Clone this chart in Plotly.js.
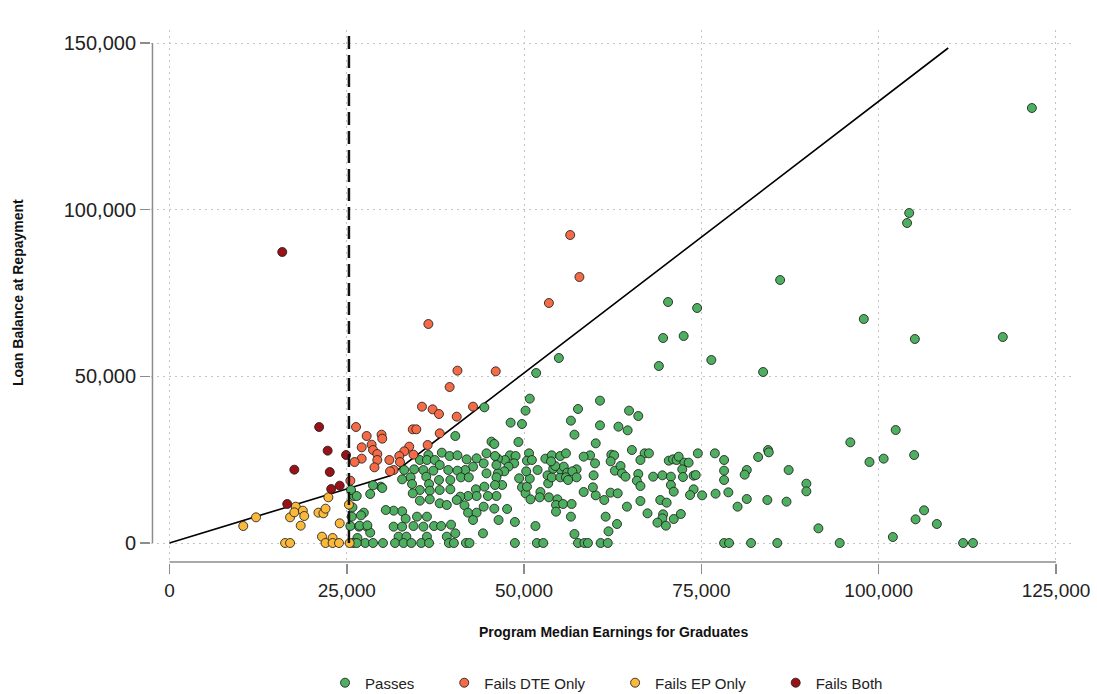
<!DOCTYPE html>
<html>
<head>
<meta charset="utf-8">
<script src="https://cdn.plot.ly/plotly-3.0.1.min.js"></script>
<style>
html,body{margin:0;padding:0;background:#fff;}
#chart{width:1097px;height:694px;}
</style>
</head>
<body>
<div id="chart"></div>
<script>
// Values in thousands of dollars: [earnings, loan balance]
var passes = [
[121.6,130.5],[104.3,99.0],[104.0,96.0],[117.5,61.8],[105.1,61.2],[97.9,67.2],[86.1,78.9],[70.3,72.3],[74.4,70.5],[72.5,62.1],[69.6,61.5],[69.0,53.1],[76.4,54.9],[83.7,51.3],[54.9,55.5],[51.7,51.0],
[89.8,17.8],[89.8,15.5],[91.5,4.4],[94.5,0],[96.0,30.2],[98.7,24.3],[100.7,25.3],[102.4,33.9],[105.0,26.4],[102.0,1.8],[105.2,7.1],[106.4,9.8],[108.2,5.7],[111.9,0],[113.3,0],
[69.5,20.3],[70.7,19.9],[70.7,17.4],[71.1,15.4],[69.2,12.9],[70.1,12.1],[69.6,8.6],[69.5,7.4],[68.8,6.1],[70.0,5.2],[71.1,7.2],[72.1,8.7],[70.4,24.7],[71.0,25.1],[71.5,24.9],[71.8,25.9],[72.6,24.1],[73.2,24.1],[72.3,22.1],[72.4,19.8],[73.9,20.2],[74.2,20.4],[73.9,16.1],[73.4,14.4],[75.1,14.3],[74.5,26.9],[76.9,26.9],[78.2,24.9],[78.2,21.7],[78.2,18.9],[77.0,14.8],[78.8,15.2],[80.1,10.9],[81.4,21.9],[81.1,20.5],[81.4,13.2],[83.0,25.8],[84.4,27.9],[84.5,27.2],[84.3,12.9],[87.0,12.4],[87.3,21.9],[78.2,0],[78.9,0],[82.0,0],[85.7,0],
[50.8,43.3],[50.2,39.7],[48.1,36.1],[49.7,35.7],[49.2,30.3],[57.6,40.2],[60.7,42.7],[56.6,36.7],[57.1,32.5],[60.7,35.3],[60.1,29.9],[64.8,39.7],[66.1,38.1],[63.3,34.9],[64.6,33.8],[65.2,27.9],[67.0,26.9],[67.6,26.9],[66.4,24.9],[68.2,19.9],[66.1,20.7],[65.9,18.7],[66.4,17.1],[66.4,12.6],[64.5,10.9],[67.4,8.9],[63.1,5.7],[61.9,3.5],[61.5,7.9],[61.3,12.9],[62.2,15.1],[63.2,14.9],[60.1,14.3],[59.7,16.7],[58.4,15.3],[59.8,20.3],[60.0,23.9],[59.3,26.3],[58.4,25.9],[62.3,26.5],[62.7,26.3],[62.2,24.5],[62.8,21.7],[63.6,23.1],[63.8,20.9],[64.3,19.9],[57.1,2.7],[56.6,7.9],[57.6,0],[58.5,0],[59.0,0],[60.8,0],[61.8,0],[48.7,0],[51.8,0],[52.7,0],[51.6,5.1],[48.7,6.3],[46.4,6.9],[47.6,10.2],[46.9,17.4],[49.3,19.4],[49.7,16.7],[50.2,14.9],[50.9,13.1],[50.4,16.9],[50.8,19.3],[50.3,21.5],[51.9,21.9],[52.3,15.3],[52.2,13.7],[53.5,13.7],[54.7,13.1],[54.5,11.4],[54.5,9.4],[55.5,11.7],[56.7,11.7],[53.4,17.9],[53.3,20.3],[53.9,19.7],[55.1,19.7],[55.1,22.1],[55.6,22.9],[56.1,21.1],[55.9,19.7],[57.4,22.1],[56.8,21.5],[57.4,19.7],[56.2,18.9],[54.1,22.3],[54.4,23.1],[53.0,25.3],[53.9,26.3],[53.8,24.5],[55.1,26.1],[55.9,26.9],[50.7,26.9],[50.4,24.7],[51.1,24.9],[48.0,26.3],[47.3,24.9],[48.8,26.1],[48.6,23.9],[47.8,22.9],[47.2,21.5],[46.3,20.9],[46.3,25.3],
[44.4,40.7],[40.3,32.1],[45.4,30.4],[45.8,29.7],[36.5,26.4],[35.3,24.9],[36.3,24.9],[37.4,24.9],[38.4,27.1],[39.5,26.1],[40.6,26.3],[41.9,25.1],[43.3,25.4],[44.7,26.9],[45.9,26.1],[46.1,23.4],[44.3,23.9],[42.8,22.9],[41.7,21.9],[40.6,21.7],[39.3,21.9],[38.1,23.4],[37.2,21.7],[35.8,21.9],[34.5,22.1],[33.1,21.9],[34.0,19.7],[32.8,19.1],[36.2,19.9],[36.6,17.7],[38.0,18.9],[39.6,18.9],[41.1,19.7],[42.2,19.7],[44.7,20.9],[46.1,19.7],[43.2,16.1],[44.4,16.9],[45.9,17.4],[46.1,14.1],[44.9,14.1],[43.3,14.1],[42.1,14.1],[41.0,13.9],[39.6,16.1],[38.1,15.9],[36.7,15.7],[35.3,15.9],[34.2,17.7],[34.3,14.9],[36.7,13.1],[38.1,11.9],[39.1,11.4],[40.5,12.9],[41.6,11.3],[42.1,9.1],[43.3,9.1],[44.3,10.9],[45.8,10.3],[35.3,12.7],[32.8,9.5],[31.6,9.7],[30.5,9.9],[27.4,9.1],[27.0,8.3],[25.7,7.9],[29.8,16.9],[28.7,17.3],[30.0,16.5],[28.3,14.7],[26.0,14.1],[25.6,15.9],[34.9,7.9],[36.3,7.9],[33.3,7.3],[34.4,5.1],[31.6,4.9],[32.8,4.9],[35.8,4.9],[37.3,5.1],[38.3,5.1],[39.7,5.5],[42.8,6.9],[44.2,2.9],[26.7,4.9],[27.8,4.9],[28.3,3.1],[25.5,5.1],[26.5,1.5],[32.3,1.9],[33.4,1.9],[36.3,1.9],[39.1,1.9],[40.3,2.9],[27.6,0],[28.7,0],[30.1,0],[31.8,0],[33.0,0],[34.1,0],[35.5,0],[36.6,0],[39.4,0],[40.1,0],[41.8,0],[42.3,0],[25.9,0],[25.8,10.7],
[26.4,14.1],[26.8,5.2],[27.9,5.3],[26.4,0]
];
var failsDTE = [
[56.5,92.4],[57.8,79.8],[53.5,72.0],[36.5,65.7],[40.6,51.7],[46.0,51.5],[39.5,46.8],[35.6,40.9],[37.1,40.1],[38.0,38.7],[40.5,37.9],[42.8,40.9],[34.3,34.1],[34.8,34.1],[38.1,32.9],[36.4,29.4],[33.8,28.9],[33.1,27.5],[34.4,26.5],[32.4,26.1],[32.5,24.3],[31.0,24.9],[31.6,21.9],[31.1,21.5],[29.9,32.5],[30.0,31.3],[27.8,32.1],[28.5,29.5],[27.1,28.7],[28.7,27.9],[29.3,26.7],[29.3,24.9],[28.9,22.7],[27.1,25.3],[26.1,24.3],[25.5,18.7],[26.3,34.8]
];
var failsEP = [
[10.4,5.1],[12.2,7.7],[17.0,7.7],[17.8,10.9],[17.6,9.2],[18.5,5.2],[18.8,9.7],[19.0,8.1],[21.0,9.1],[21.7,8.9],[22.0,10.3],[22.4,13.7],[24.0,5.9],[25.3,11.5],[25.4,0],[16.3,0],[17.0,0],[21.5,1.9],[22.0,0],[23.0,1.5],[23.0,0],[23.9,0]
];
var failsBoth = [
[15.9,87.3],[21.1,34.8],[22.3,27.7],[24.9,26.4],[17.6,22.0],[22.6,21.3],[22.8,16.2],[24.0,17.2],[16.6,11.7]
];
var thresholdLineX = [0, 31.1, 109.8];
var thresholdLineY = [0, 20.2, 148.5];
var earningsCutoff = 25.3;
var xTickVals = [0, 25, 50, 75, 100, 125];
var xTickText = ["0", "25,000", "50,000", "75,000", "100,000", "125,000"];
var yTickVals = [0, 50, 100, 150];
var yTickText = ["0", "50,000", "100,000", "150,000"];
var seriesNames = ["Passes", "Fails DTE Only", "Fails EP Only", "Fails Both"];
var seriesColors = ["#4daf5f", "#f46b45", "#fbb93c", "#9b1118"];

var NB = "\u00a0\u00a0\u00a0\u00a0\u00a0\u00a0";
var groups = [passes, failsDTE, failsEP, failsBoth];
var traces = [];
traces.push({
  x: thresholdLineX, y: thresholdLineY, mode: 'lines', type: 'scatter',
  line: {color: '#000', width: 1.6}, showlegend: false, hoverinfo: 'skip'
});
groups.forEach(function(g, i){
  traces.push({
    x: g.map(function(p){return p[0];}),
    y: g.map(function(p){return p[1];}),
    mode: 'markers', type: 'scatter',
    name: seriesNames[i] + (i < 3 ? NB : ''),
    marker: {color: seriesColors[i], size: 9, line: {color: 'rgba(30,30,30,0.85)', width: 1}},
    cliponaxis: false
  });
});

var FONT = 'Liberation Sans, Arial, sans-serif';
var layout = {
  width: 1097, height: 694,
  margin: {l: 151, r: 22, t: 30, b: 131, autoexpand: false},
  paper_bgcolor: '#fff', plot_bgcolor: '#fff',
  font: {family: FONT, color: '#222'},
  showlegend: true,
  xaxis: {
    range: [-2.609, 127.68], tickvals: xTickVals, ticktext: xTickText,
    ticks: 'outside', ticklen: 10, tickwidth: 1.5, tickcolor: '#8c8c8c',
    tickfont: {size: 19, color: '#222', family: FONT},
    showgrid: true, gridcolor: '#c4c4c4', gridwidth: 1, griddash: '2px,4px',
    zeroline: false, showline: false, automargin: false
  },
  yaxis: {
    range: [-6.0, 153.9], tickvals: yTickVals, ticktext: yTickText,
    ticks: 'outside', ticklen: 10, tickwidth: 1.5, tickcolor: '#8c8c8c',
    tickfont: {size: 20, color: '#222', family: FONT},
    showgrid: true, gridcolor: '#c4c4c4', gridwidth: 1, griddash: '2px,4px',
    zeroline: false, showline: false, automargin: false
  },
  shapes: [
    {type: 'line', xref: 'x', yref: 'y', x0: -2.4, x1: -2.4, y0: 0, y1: 150, line: {color: '#8c8c8c', width: 1.5}},
    {type: 'line', xref: 'x', yref: 'y', x0: 0, x1: 125, y0: -5.7, y1: -5.7, line: {color: '#8c8c8c', width: 1.5}},
    {type: 'line', xref: 'x', yref: 'y', x0: earningsCutoff, x1: earningsCutoff, y0: 0, y1: 153.3, line: {color: '#111', width: 2.5, dash: '13px,6px'}}
  ],
  annotations: [
    {text: '<b>Loan Balance at Repayment</b>', xref: 'paper', yref: 'paper', x: -0.1439, y: 0.5066, xanchor: 'center', yanchor: 'middle', textangle: -90, showarrow: false, font: {size: 14, color: '#111', family: FONT}},
    {text: '<b>Program Median Earnings for Graduates</b>', xref: 'paper', yref: 'paper', x: 0.5, y: -0.1295, xanchor: 'center', yanchor: 'middle', showarrow: false, font: {size: 14, color: '#111', family: FONT}}
  ],
  legend: {
    orientation: 'h', xref: 'container', yref: 'container', x: 0.2963, xanchor: 'left', y: 0.0159, yanchor: 'middle',
    font: {size: 15, color: '#222', family: FONT}, bgcolor: 'rgba(0,0,0,0)', traceorder: 'normal'
  }
};
Plotly.newPlot('chart', traces, layout, {displayModeBar: false, staticPlot: true});
</script>
</body>
</html>
